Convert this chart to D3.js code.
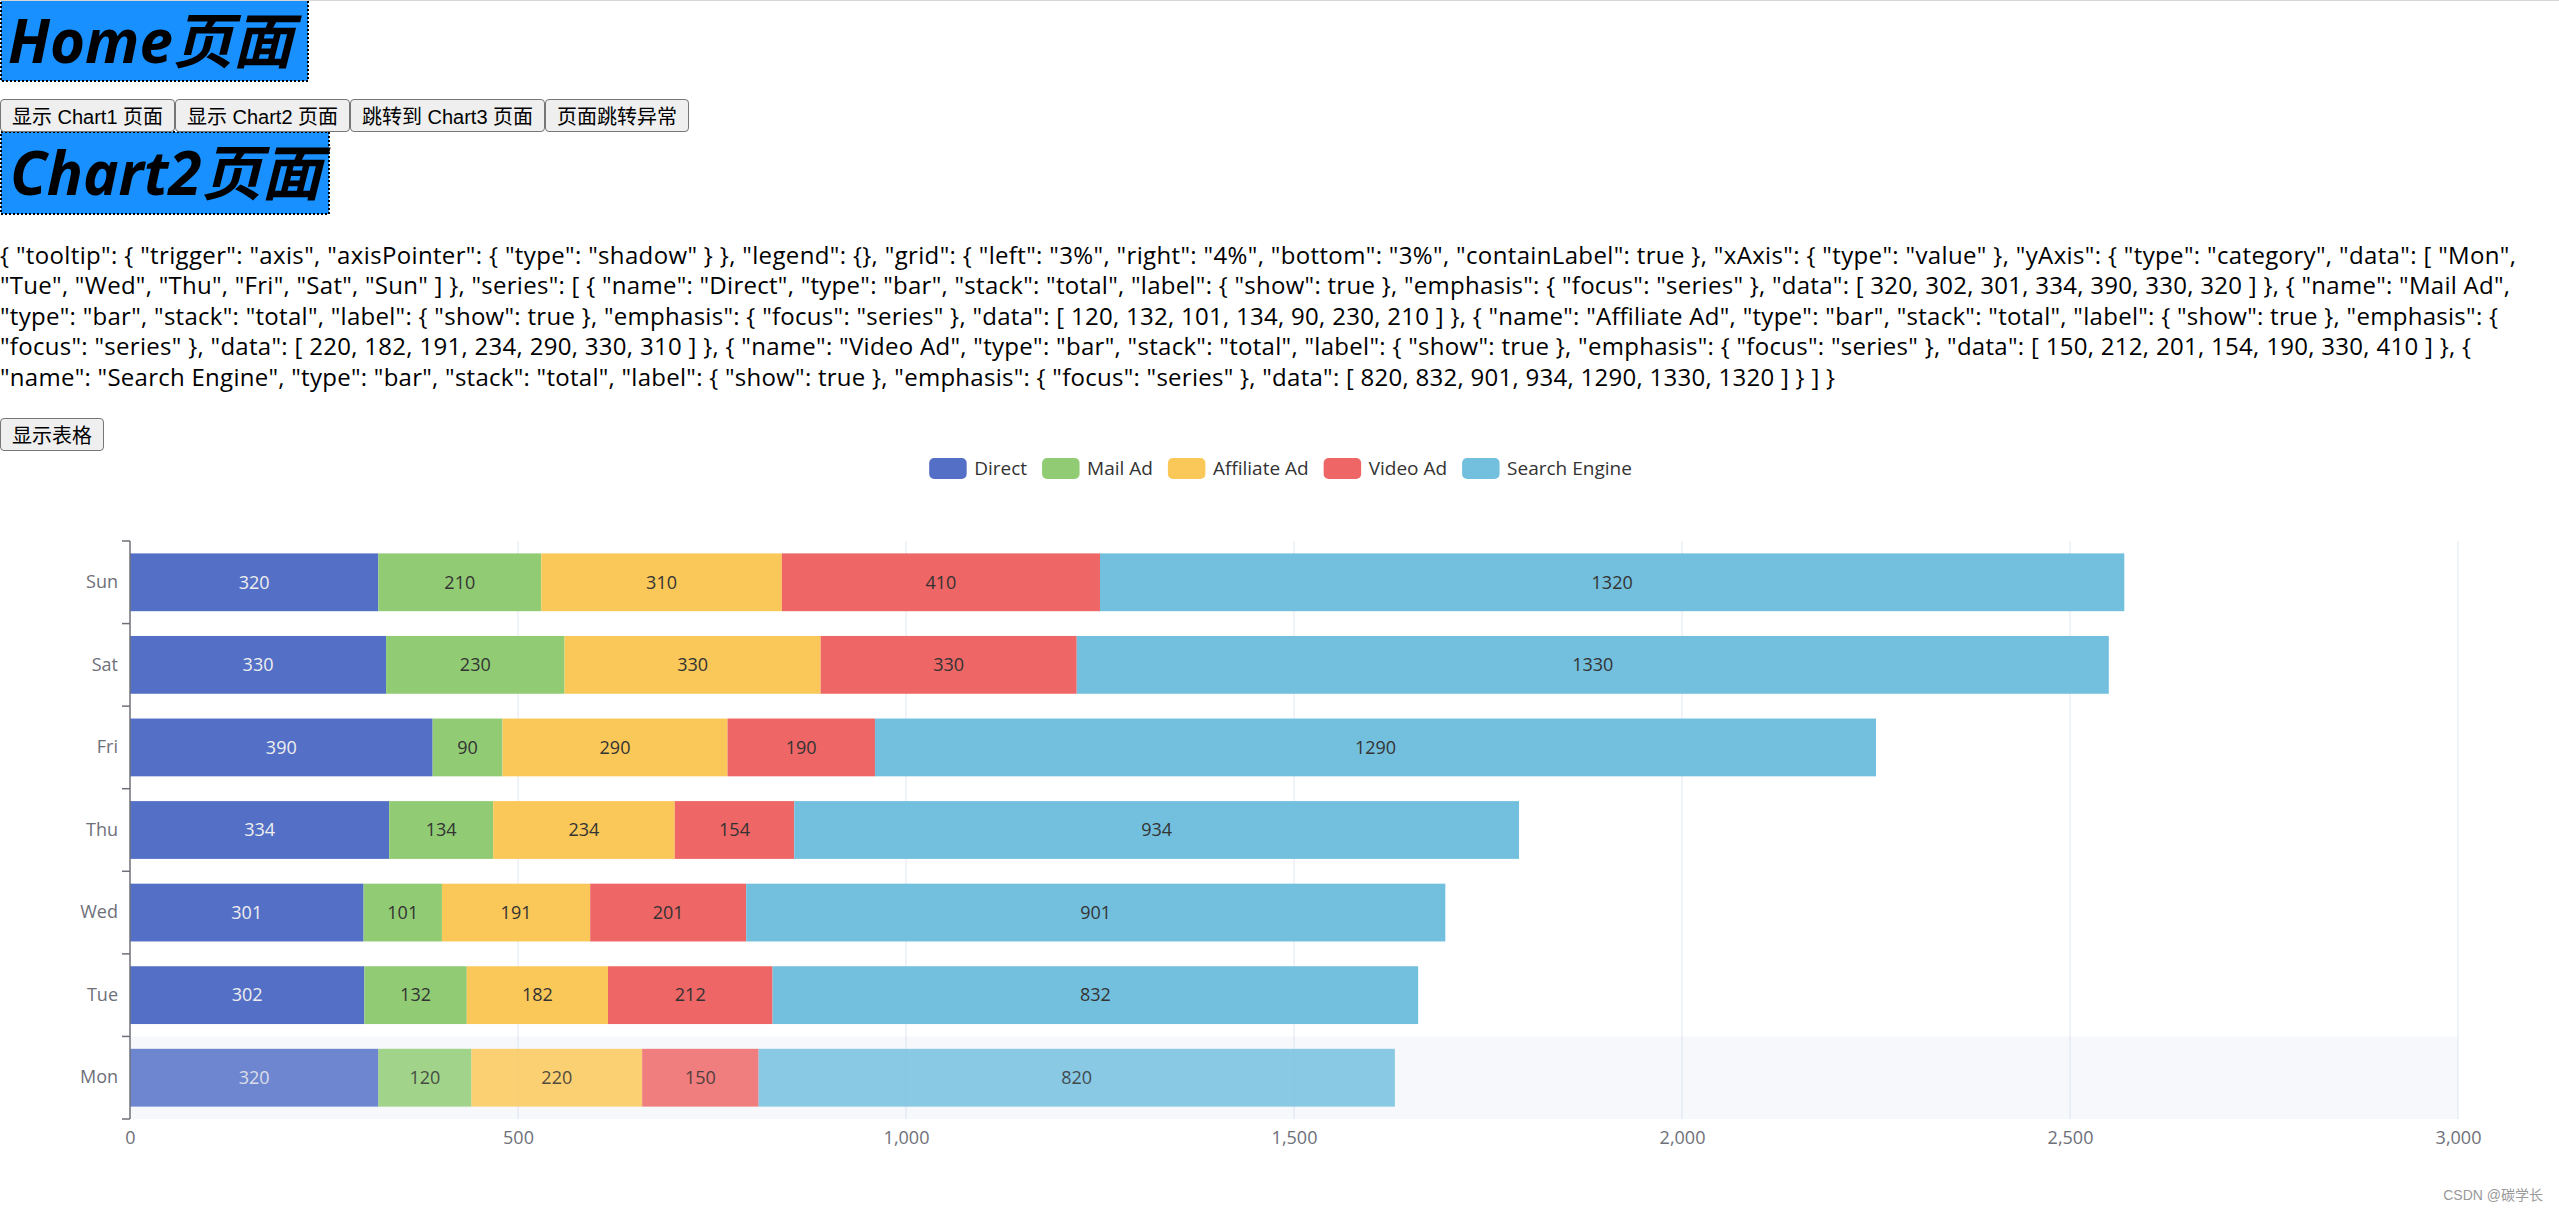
<!DOCTYPE html>
<html><head><meta charset="utf-8">
<script src="https://cdn.jsdelivr.net/npm/d3@7/dist/d3.min.js"></script>
<style>
html,body{margin:0;padding:0;background:#fff;overflow:hidden;width:2559px;height:1211px;}
#page{position:relative;width:2559px;height:1211px;}
#svg{position:absolute;left:0;top:0;}
button{position:absolute;box-sizing:border-box;height:33px;font:20px "Liberation Sans","Noto Sans CJK SC",sans-serif;background:#efefef;border:1.5px solid #767676;border-radius:4px;padding:0;color:#000;z-index:2;}
</style></head><body><div id="page"><svg id="svg" width="2559" height="1211"></svg></div>
<script>
const categories=["Mon","Tue","Wed","Thu","Fri","Sat","Sun"];
const seriesNames=["Direct","Mail Ad","Affiliate Ad","Video Ad","Search Engine"];
const direct=[320,302,301,334,390,330,320];
const mailAd=[120,132,101,134,90,230,210];
const affiliateAd=[220,182,191,234,290,330,310];
const videoAd=[150,212,201,154,190,330,410];
const searchEngine=[820,832,901,934,1290,1330,1320];
const seriesData=[direct,mailAd,affiliateAd,videoAd,searchEngine];
const xTicks=[0,500,1000,1500,2000,2500,3000];
const colors=["#5470c6","#91cc75","#fac858","#ee6666","#73c0de"];
const buttonLabels=["显示 Chart1 页面","显示 Chart2 页面","跳转到 Chart3 页面","页面跳转异常"];
const tableButtonLabel="显示表格";
const headings=["Home页面","Chart2页面"];
const watermark="CSDN @碳学长";

const page=d3.select("#page");
const svg=d3.select("#svg");
const chartFont='"Open Sans","Noto Sans CJK SC",sans-serif';

// Headings
const headBoxes=[{x:1,y:0,w:307,h:81,tx:8,ty:63,text:headings[0]},{x:1,y:132,w:328,h:82,tx:10,ty:195,text:headings[1]}];
headBoxes.forEach(b=>{
  svg.append("rect").attr("x",b.x).attr("y",b.y).attr("width",b.w).attr("height",b.h)
    .attr("fill","#1890ff").attr("stroke","#000").attr("stroke-width",2).attr("stroke-dasharray","2 2");
  svg.append("text").attr("x",b.tx).attr("y",b.ty).text(b.text)
    .attr("font-family",'"Open Sans","Noto Sans CJK SC",sans-serif').attr("font-size",60)
    .attr("font-weight","bold").attr("font-style","italic").attr("fill","#000");
});
svg.append("rect").attr("x",0).attr("y",0).attr("width",2559).attr("height",1).attr("fill","#d6d6d6");

// Buttons
const btnPos=[{l:0,w:175},{l:175,w:175},{l:350,w:195},{l:545,w:144}];
buttonLabels.forEach((t,i)=>{
  page.append("button").text(t).style("left",btnPos[i].l+"px").style("top","99px").style("width",btnPos[i].w+"px");
});
page.append("button").text(tableButtonLabel).style("left","0px").style("top","418px").style("width","104px");

// JSON text
const option={tooltip:{trigger:"axis",axisPointer:{type:"shadow"}},legend:{},
  grid:{left:"3%",right:"4%",bottom:"3%",containLabel:true},xAxis:{type:"value"},
  yAxis:{type:"category",data:categories},
  series:seriesNames.map((n,i)=>({name:n,type:"bar",stack:"total",label:{show:true},emphasis:{focus:"series"},data:seriesData[i]}))};
const s=JSON.stringify(option,null,2).replace(/\s+/g," ");
const b1=s.indexOf('"Tue"');
const b2=s.indexOf('"type"',s.indexOf('"Mail Ad"'));
const b3=s.indexOf('"focus"',s.indexOf('"Affiliate Ad"'));
const b4=s.indexOf('"name": "Search Engine"');
const lines=[s.slice(0,b1),s.slice(b1,b2),s.slice(b2,b3),s.slice(b3,b4),s.slice(b4)].map(t=>t.trim());
const lineEnds=[2516,2510,2498,2471,1835];
lines.forEach((t,i)=>{
  svg.append("text").attr("x",0).attr("y",263.5+i*30.5).text(t)
    .attr("font-family",chartFont).attr("font-size",24).attr("fill","#000")
    .attr("textLength",lineEnds[i]).attr("lengthAdjust","spacing");
});

// Chart
const x=d3.scaleLinear().domain([0,3000]).range([130,2458]);
const y=d3.scaleBand().domain(categories.slice().reverse()).range([541,1119]).paddingInner(0.3).paddingOuter(0.15);
const step=y.step();

// Legend
const lg=svg.append("g").attr("font-family",chartFont).attr("font-size",19);
let cx=0;
seriesNames.forEach((n,i)=>{
  const g=lg.append("g");
  g.append("rect").attr("x",0).attr("y",-10.5).attr("width",37.5).attr("height",21).attr("rx",5).attr("fill",colors[i]);
  const t=g.append("text").attr("x",45).attr("y",0).attr("dy","0.35em").attr("fill","#333").text(n);
  const w=45+t.node().getComputedTextLength();
  g.attr("transform",`translate(${cx},0)`);
  cx+=w+15;
});
const totalW=cx-15;
lg.attr("transform",`translate(${1280.5-totalW/2},468.5)`);

// gridlines
svg.append("g").selectAll("line").data(xTicks.slice(1)).join("line")
  .attr("x1",d=>x(d)).attr("x2",d=>x(d)).attr("y1",541).attr("y2",1119)
  .attr("stroke","#e0e6f1").attr("stroke-width",1);

// hover shadow on Mon
svg.append("rect").attr("x",x(0)).attr("width",x(3000)-x(0))
  .attr("y",541+6*step).attr("height",step).attr("fill","rgba(210,219,238,0.2)");

// bars
const table=categories.map((c,i)=>{const o={cat:c};seriesNames.forEach((n,j)=>o[n]=seriesData[j][i]);return o;});
const stacked=d3.stack().keys(seriesNames)(table);
const barsG=svg.append("g");
stacked.forEach((layer,li)=>{
  const g=barsG.append("g");
  layer.forEach(d=>{
    const op=d.data.cat==="Mon"?0.84:1;
    g.append("rect").attr("x",x(d[0])).attr("width",x(d[1])-x(d[0]))
      .attr("y",y(d.data.cat)).attr("height",y.bandwidth()).attr("fill",colors[li]).attr("opacity",op);
    g.append("text").attr("x",(x(d[0])+x(d[1]))/2).attr("y",y(d.data.cat)+y.bandwidth()/2)
      .attr("dy","0.35em").attr("text-anchor","middle").attr("font-family",chartFont).attr("font-size",18)
      .attr("fill",li===0?"#eee":"#333").attr("opacity",op).text(d[1]-d[0]);
  });
});

// y axis
const ya=svg.append("g").attr("transform","translate(130,0)")
  .call(d3.axisLeft(y).tickSize(0).tickPadding(12));
ya.select(".domain").remove();
ya.selectAll("text").attr("font-family",chartFont).attr("font-size",18).attr("fill","#6e7079");
svg.append("line").attr("x1",130).attr("x2",130).attr("y1",541).attr("y2",1119).attr("stroke","#6e7079").attr("stroke-width",1.5);
svg.append("g").selectAll("line").data(d3.range(8)).join("line")
  .attr("x1",122).attr("x2",130).attr("y1",i=>541+i*step).attr("y2",i=>541+i*step)
  .attr("stroke","#6e7079").attr("stroke-width",1.5);

// x axis
const xa=svg.append("g").attr("transform","translate(0,1119)")
  .call(d3.axisBottom(x).tickValues(xTicks).tickFormat(d3.format(",")).tickSize(0).tickPadding(12.5));
xa.select(".domain").remove();
xa.selectAll("text").attr("font-family",chartFont).attr("font-size",18).attr("fill","#6e7079");

// watermark
svg.append("text").attr("x",2543).attr("y",1200).attr("text-anchor","end")
  .attr("font-family",'"Liberation Sans","Noto Sans CJK SC",sans-serif').attr("font-size",14).attr("fill","#999").text(watermark);
</script></body></html>
